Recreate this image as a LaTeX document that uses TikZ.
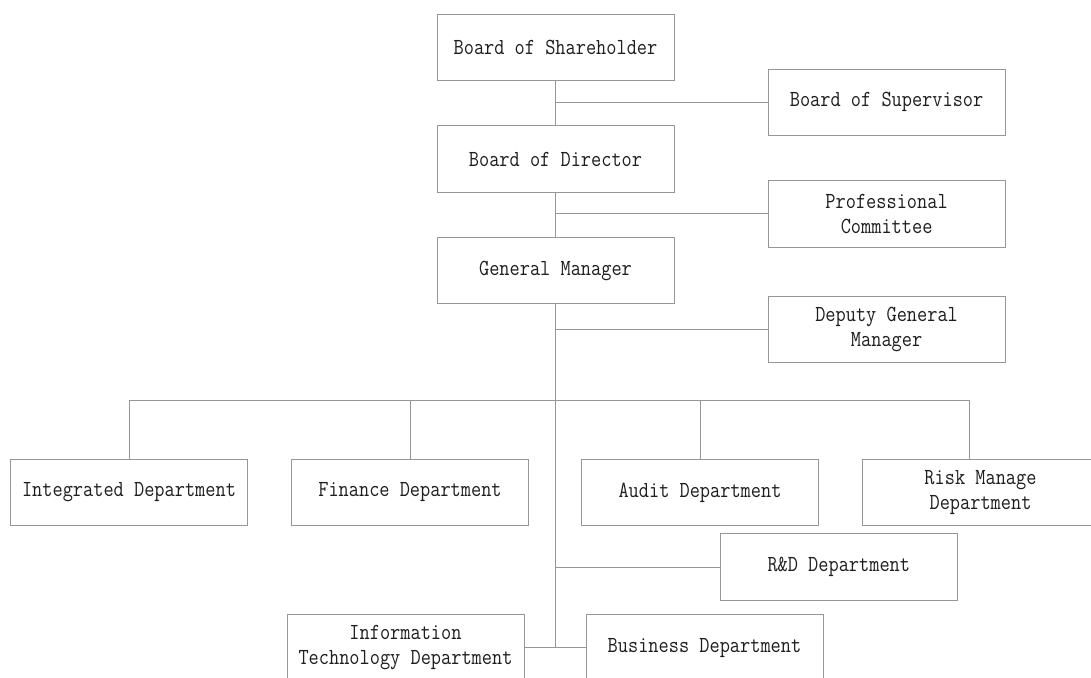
\documentclass[tikz,border=0pt]{standalone}
\usepackage{fontspec}
\newfontfamily\boxfont[FakeStretch=0.86]{Latin Modern Mono}
\definecolor{linegray}{RGB}{150,150,150}
\definecolor{textdark}{RGB}{30,30,30}
\begin{document}
\begin{tikzpicture}[x=1pt,y=-1pt,
  orgbox/.style={draw=linegray, line width=1pt, fill=white, minimum width=237pt,
    minimum height=66.5pt, inner sep=0pt, align=center, text=textdark,
    font=\boxfont\fontsize{23}{25}\selectfont},
  conn/.style={draw=linegray, line width=1pt}]
\useasboundingbox (0,0) rectangle (1091,677);
\clip (0,0) rectangle (1091,677);
\fill[white] (0,0) rectangle (1091,677);
% nodes
\node[orgbox] (SH) at (555.5,47.3) {Board of Shareholder};
\node[orgbox] (SV) at (886.6,102.3) {Board of Supervisor};
\node[orgbox] (BD) at (555.5,159) {Board of Director};
\node[orgbox] (PC) at (886.6,213.8) {Professional\\Committee};
\node[orgbox] (GM) at (555.5,270.7) {General Manager};
\node[orgbox] (DGM) at (886.6,329.5) {Deputy General\\Manager};
\node[orgbox] (Integ) at (129,492.5) {Integrated Department};
\node[orgbox] (Fin) at (410,492.5) {Finance Department};
\node[orgbox] (Audit) at (700,492.5) {Audit Department};
\node[orgbox] (Risk) at (980.5,492.5) {Risk Manage\\Department};
\node[orgbox] (RD) at (838.8,567.2) {R\&D Department};
\node[orgbox] (IT) at (405.5,647.8) {Information\\Technology Department};
\node[orgbox] (Bus) at (704.5,647.8) {Business Department};
% connectors
\draw[conn] (SH.south) -- (BD.north);
\draw[conn] (BD.south) -- (GM.north);
\draw[conn] (GM.south) -- (GM.south |- Bus.west);
\coordinate (j1) at (SH.south |- SV.west);
\coordinate (j2) at (BD.south |- PC.west);
\coordinate (j3) at (GM.south |- DGM.west);
\coordinate (j4) at (GM.south |- RD.west);
\draw[conn] (j1) -- (SV.west);
\draw[conn] (j2) -- (PC.west);
\draw[conn] (j3) -- (DGM.west);
\draw[conn] (j4) -- (RD.west);
\coordinate (hleft) at (129,400.7);
\coordinate (hright) at (969.7,400.7);
\draw[conn] (Integ.north) -- (hleft) -- (hright) -- (hright |- Risk.north);
\draw[conn] (Fin.north) -- (Fin.north |- hleft);
\draw[conn] (Audit.north) -- (Audit.north |- hleft);
\draw[conn] (IT.east) -- (Bus.west);
\end{tikzpicture}
\end{document}
